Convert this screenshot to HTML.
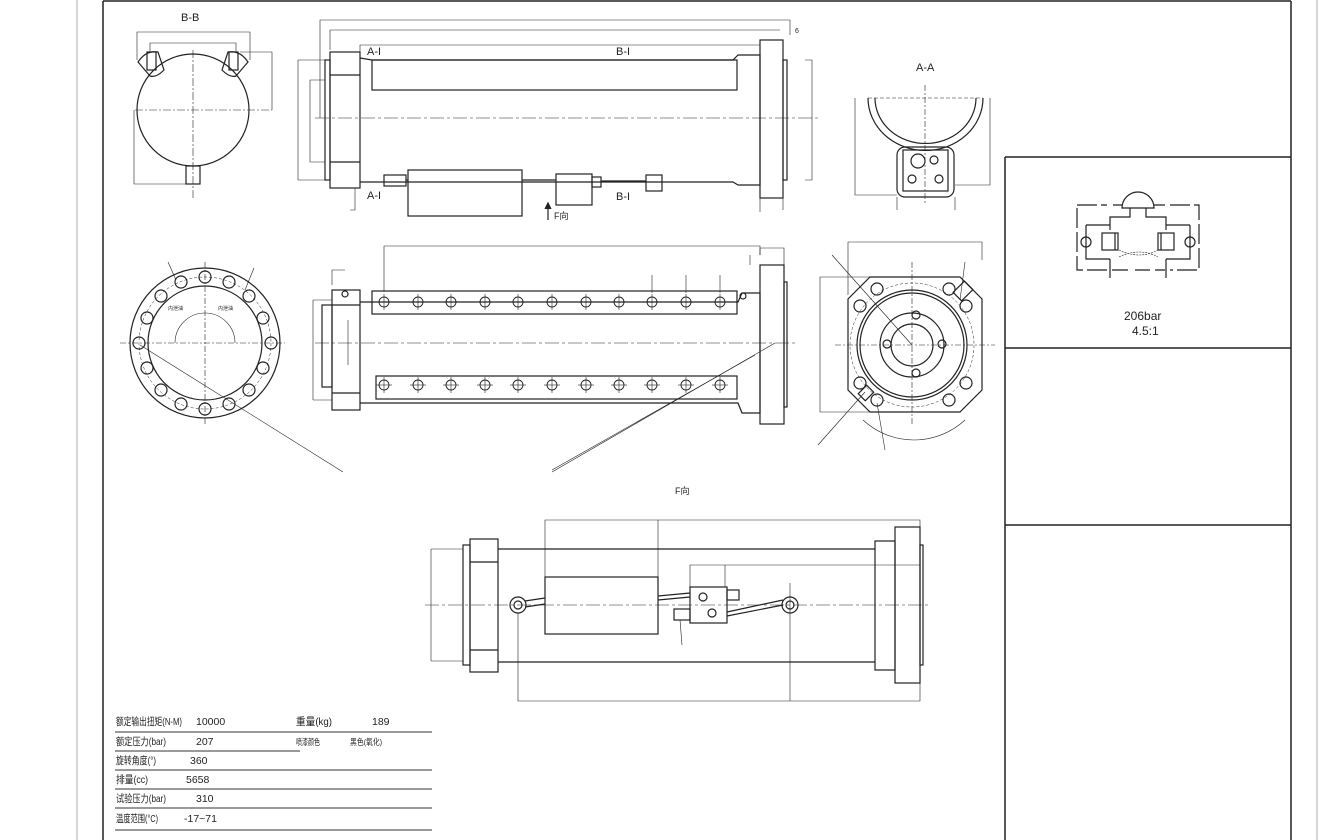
<!DOCTYPE html>
<html><head><meta charset="utf-8"><style>
html,body{margin:0;padding:0;background:#fff;width:1343px;height:840px;overflow:hidden}
svg{display:block}
text{font-family:"Liberation Sans","Noto Sans CJK SC",sans-serif;fill:#222}
</style></head><body>
<svg width="1343" height="840" viewBox="0 0 1343 840" xmlns="http://www.w3.org/2000/svg">
<defs>
<g id="ch"><circle r="5"/><line x1="-8" y1="0" x2="8" y2="0" stroke-width="0.6"/><line x1="0" y1="-8" x2="0" y2="8" stroke-width="0.6"/></g>
</defs>
<g fill="none" stroke="#222" stroke-width="1.2">
<!-- frame -->
<line x1="77" y1="0" x2="77" y2="840" stroke="#bbb"/>
<line x1="1317" y1="0" x2="1317" y2="840" stroke="#bbb"/>
<line x1="103" y1="1" x2="1291" y2="1" stroke-width="1.5"/>
<line x1="103" y1="1" x2="103" y2="840" stroke-width="1.5"/>
<line x1="1291" y1="1" x2="1291" y2="840" stroke-width="1.5"/>
<line x1="1005" y1="157" x2="1005" y2="840" stroke-width="1.5"/>
<line x1="1005" y1="157" x2="1291" y2="157" stroke-width="1.5"/>
<line x1="1005" y1="348" x2="1291" y2="348" stroke-width="1.5"/>
<line x1="1005" y1="525" x2="1291" y2="525" stroke-width="1.5"/>

<!-- B-B view -->
<circle cx="193" cy="110" r="56"/>
<path d="M138 62 q8-12 20-10 l6 18 q-8 8 -14 6 z"/>
<path d="M248 62 q-8-12 -20-10 l-6 18 q8 8 14 6 z"/>
<rect x="147" y="52" width="9" height="18"/><rect x="229" y="52" width="9" height="18"/>
<rect x="186" y="166" width="14" height="18"/>
<g stroke-width="0.6" stroke-dasharray="8 2 2 2"><line x1="193" y1="50" x2="193" y2="200"/><line x1="135" y1="110" x2="272" y2="110"/></g>
<g stroke-width="0.6"><path d="M137 60 V32 H250 V60"/><path d="M150 52 V43 H236 V52"/><path d="M240 52 H272 V110"/><path d="M134 110 V184 H186"/></g>

<!-- top view -->
<g stroke-width="0.6"><path d="M320 118 V20 H790 V35"/><path d="M330 50 V30 H780"/><path d="M360 52 V45 H760"/>
<path d="M298 60 V180"/><path d="M298 60 H330"/><path d="M298 180 H330"/><path d="M310 80 H325 V162 H310 Z"/>
<path d="M805 60 H812 V180 H805"/><path d="M783 198 V210"/><path d="M760 198 V212"/>
<path d="M355 188 V210 H350"/></g>
<rect x="330" y="52" width="30" height="136"/><line x1="330" y1="75" x2="360" y2="75"/><line x1="330" y1="162" x2="360" y2="162"/>
<rect x="325" y="60" width="5" height="120"/>
<path d="M360 58 L372 60 H733 L738 55 H760 V185 H738 L733 182 H360"/>
<rect x="372" y="60" width="365" height="30"/>
<rect x="760" y="40" width="23" height="158"/>
<rect x="783" y="60" width="4" height="120"/>
<line x1="315" y1="118" x2="820" y2="118" stroke-width="0.6" stroke-dasharray="14 3 3 3"/>
<rect x="384" y="175" width="22" height="11"/><rect x="408" y="170" width="114" height="46"/>
<rect x="556" y="174" width="36" height="31"/><rect x="592" y="177" width="9" height="10"/>
<rect x="646" y="175" width="16" height="16"/>
<line x1="406" y1="180" x2="408" y2="180"/><line x1="522" y1="180" x2="556" y2="180"/><line x1="601" y1="181" x2="646" y2="181"/>
<path d="M548 220 V205" /><path d="M545 209 L548 203 L551 209" fill="#222"/>

<!-- A-A view -->
<path d="M868 98 A57 52 0 0 0 983 98"/><path d="M875 98 A50 45 0 0 0 976 98"/>
<path d="M868 98 H983" stroke-width="0.6" stroke-dasharray="4 2"/>
<rect x="897" y="147" width="57" height="50" rx="8"/><rect x="903" y="150" width="45" height="41"/>
<circle cx="918" cy="161" r="7"/><circle cx="934" cy="160" r="4"/>
<circle cx="912" cy="179" r="4"/><circle cx="939" cy="179" r="4"/>
<g stroke-width="0.6"><line x1="925" y1="85" x2="925" y2="205" stroke-dasharray="6 2 2 2"/><path d="M855 98 V195 H897"/><path d="M990 98 V185 H955"/><path d="M897 197 V210"/><path d="M955 197 V210"/></g>

<!-- flange circle -->
<circle cx="205" cy="343" r="75"/><circle cx="205" cy="343" r="57"/>
<circle cx="205" cy="343" r="66" stroke-width="0.5" stroke-dasharray="3 2"/>
<g>
<circle cx="205" cy="277" r="6"/><circle cx="229" cy="282" r="6"/><circle cx="249" cy="296" r="6"/><circle cx="263" cy="318" r="6"/><circle cx="271" cy="343" r="6"/><circle cx="263" cy="368" r="6"/><circle cx="249" cy="390" r="6"/><circle cx="229" cy="404" r="6"/><circle cx="205" cy="409" r="6"/><circle cx="181" cy="404" r="6"/><circle cx="161" cy="390" r="6"/><circle cx="147" cy="368" r="6"/><circle cx="139" cy="343" r="6"/><circle cx="147" cy="318" r="6"/><circle cx="161" cy="296" r="6"/><circle cx="181" cy="282" r="6"/>
</g>
<g stroke-width="0.6"><line x1="205" y1="262" x2="205" y2="425" stroke-dasharray="6 2 2 2"/><line x1="120" y1="343" x2="285" y2="343" stroke-dasharray="6 2 2 2"/>
<path d="M175 343 A30 30 0 0 1 235 343"/><line x1="140" y1="345" x2="343" y2="472"/>
<line x1="168" y1="262" x2="176" y2="280"/><line x1="254" y1="268" x2="245" y2="290"/></g>

<!-- middle side view -->
<g stroke-width="0.6"><path d="M384 292 V246 H760 V255"/><path d="M760 255 V248 H784 V265"/><path d="M750 255 V265"/><path d="M332 285 V270 H345"/>
<path d="M313 300 V400"/><path d="M313 300 H332"/><path d="M313 400 H332"/><path d="M348 320 V365"/>
<line x1="315" y1="343" x2="795" y2="343" stroke-dasharray="14 3 3 3"/>
<line x1="775" y1="343" x2="552" y2="472"/><line x1="755" y1="355" x2="552" y2="470"/>
<line x1="652" y1="275" x2="652" y2="293"/><line x1="686" y1="275" x2="686" y2="293"/><line x1="720" y1="275" x2="720" y2="293"/></g>
<rect x="332" y="290" width="28" height="120"/><line x1="332" y1="305" x2="360" y2="305"/><line x1="332" y1="393" x2="360" y2="393"/>
<rect x="322" y="305" width="10" height="82"/>
<path d="M360 302 H738 L742 293 H760 V413 H742 L738 403 H360"/>
<rect x="372" y="291" width="365" height="23"/><rect x="376" y="376" width="361" height="23"/>
<rect x="760" y="265" width="24" height="159"/><rect x="784" y="282" width="3" height="125"/>
<circle cx="345" cy="294" r="3"/><circle cx="743" cy="296" r="3"/>
<g stroke-width="0.9">
<use href="#ch" x="384" y="302"/><use href="#ch" x="418" y="302"/><use href="#ch" x="451" y="302"/><use href="#ch" x="485" y="302"/><use href="#ch" x="518" y="302"/><use href="#ch" x="552" y="302"/><use href="#ch" x="586" y="302"/><use href="#ch" x="619" y="302"/><use href="#ch" x="652" y="302"/><use href="#ch" x="686" y="302"/><use href="#ch" x="720" y="302"/>
<use href="#ch" x="384" y="385"/><use href="#ch" x="418" y="385"/><use href="#ch" x="451" y="385"/><use href="#ch" x="485" y="385"/><use href="#ch" x="518" y="385"/><use href="#ch" x="552" y="385"/><use href="#ch" x="586" y="385"/><use href="#ch" x="619" y="385"/><use href="#ch" x="652" y="385"/><use href="#ch" x="686" y="385"/><use href="#ch" x="720" y="385"/>
</g>

<!-- octagon view -->
<path d="M870 277 H960 L982 299 V390 L960 412 H870 L848 390 V299 Z"/>
<circle cx="912" cy="345" r="55"/><circle cx="912" cy="345" r="52"/><circle cx="912" cy="345" r="32"/><circle cx="912" cy="345" r="21"/>
<circle cx="912" cy="345" r="62" stroke-width="0.5" stroke-dasharray="3 2"/>
<circle cx="877" cy="289" r="6"/><circle cx="949" cy="289" r="6"/><circle cx="860" cy="306" r="6"/><circle cx="966" cy="306" r="6"/><circle cx="860" cy="383" r="6"/><circle cx="966" cy="383" r="6"/><circle cx="877" cy="400" r="6"/><circle cx="949" cy="400" r="6"/>
<circle cx="916" cy="315" r="4"/><circle cx="916" cy="373" r="4"/><circle cx="887" cy="344" r="4"/><circle cx="942" cy="344" r="4"/>
<rect x="955" y="285" width="16" height="12" transform="rotate(-45 963 291)"/><rect x="860" y="388" width="12" height="10" transform="rotate(-45 866 393)"/>
<g stroke-width="0.6"><line x1="912" y1="262" x2="912" y2="425" stroke-dasharray="6 2 2 2"/><line x1="835" y1="345" x2="995" y2="345" stroke-dasharray="6 2 2 2"/>
<path d="M848 295 V242 H982 V260"/><path d="M870 277 H820 V412 H870"/>
<path d="M863 420 A75 75 0 0 0 965 420"/><line x1="832" y1="255" x2="912" y2="345"/>
<line x1="865" y1="392" x2="818" y2="445"/><line x1="877" y1="403" x2="885" y2="450"/><line x1="965" y1="262" x2="960" y2="300"/></g>

<!-- bottom F view -->
<g stroke-width="0.6"><path d="M431 549 V661"/><path d="M431 549 H463"/><path d="M431 661 H463"/>
<path d="M545 577 V520 H920 V535"/><path d="M658 520 V577"/>
<path d="M690 587 V565 H920"/><path d="M725 565 V587"/>
<path d="M518 613 V701 H920 V683"/><path d="M790 583 V701"/>
<line x1="425" y1="605" x2="930" y2="605" stroke-dasharray="14 3 3 3"/><line x1="680" y1="620" x2="682" y2="645"/></g>
<rect x="470" y="539" width="28" height="133"/><line x1="470" y1="562" x2="498" y2="562"/><line x1="470" y1="650" x2="498" y2="650"/>
<rect x="463" y="545" width="7" height="120"/>
<path d="M498 549 H875 M498 662 H875"/>
<rect x="875" y="541" width="20" height="129"/><rect x="895" y="527" width="25" height="156"/><rect x="920" y="545" width="3" height="120"/>
<rect x="545" y="577" width="113" height="57"/>
<circle cx="518" cy="605" r="8"/><circle cx="518" cy="605" r="4"/>
<circle cx="790" cy="605" r="8"/><circle cx="790" cy="605" r="4"/>
<path d="M525 601 L545 598 M525 607 L545 604"/>
<path d="M658 596 L690 593 M658 600 L690 597"/>
<path d="M727 612 L783 600 M727 616 L783 605"/>
<rect x="690" y="587" width="37" height="36"/><circle cx="703" cy="597" r="4"/><circle cx="712" cy="613" r="4"/>
<rect x="727" y="590" width="12" height="10"/><rect x="674" y="609" width="16" height="11"/>

<!-- table lines -->
<g stroke="#333" stroke-width="1"><line x1="115" y1="732" x2="432" y2="732"/><line x1="115" y1="751" x2="300" y2="751"/><line x1="115" y1="770" x2="432" y2="770"/><line x1="115" y1="789" x2="432" y2="789"/><line x1="115" y1="808" x2="432" y2="808"/><line x1="115" y1="830" x2="432" y2="830"/></g>

<!-- hydraulic symbol -->
<path d="M1122 208 A16 16 0 0 1 1154 208 Z"/>
<path d="M1077 205 H1107 M1113 205 H1122 M1154 205 H1165 M1170 205 H1199 V270 H1170 M1165 270 H1155 M1150 270 H1135 M1128 270 H1112 M1107 270 H1077 V205" stroke-dasharray="20 4"/>
<path d="M1130 208 V217 H1110 V230 M1146 208 V217 H1166 V230"/>
<path d="M1086 225 V259 H1110 M1190 225 V259 H1166 M1086 225 H1110 M1190 225 H1166"/>
<rect x="1102" y="233" width="16" height="17"/><line x1="1115" y1="233" x2="1115" y2="250"/>
<rect x="1158" y="233" width="16" height="17"/><line x1="1161" y1="233" x2="1161" y2="250"/>
<circle cx="1086" cy="242" r="5"/><circle cx="1190" cy="242" r="5"/>
<path d="M1119 250 Q1140 260 1158 250 M1119 257 Q1140 247 1158 257" stroke-width="0.6" stroke-dasharray="2 1"/>
<line x1="1110" y1="259" x2="1110" y2="278"/><line x1="1166" y1="259" x2="1166" y2="278"/>
</g>

<!-- text -->
<text x="181" y="21" font-size="11">B-B</text>
<text x="367" y="55" font-size="11">A-I</text><text x="616" y="55" font-size="11">B-I</text>
<text x="367" y="199" font-size="11">A-I</text><text x="616" y="200" font-size="11">B-I</text>
<text x="554" y="219" font-size="9">F向</text>
<text x="795" y="33" font-size="7">6</text>
<text x="916" y="71" font-size="11">A-A</text>
<text x="675" y="494" font-size="9">F向</text>
<text x="168" y="310" font-size="5">内泄油</text><text x="218" y="310" font-size="5">内泄油</text>
<text x="1124" y="320" font-size="12" fill="#444">206bar</text>
<text x="1132" y="335" font-size="12" fill="#444">4.5:1</text>
<g font-size="10.5">
<text x="116" y="725" textLength="66" lengthAdjust="spacingAndGlyphs">额定输出扭矩(N-M)</text><text x="196" y="725">10000</text><text x="296" y="725" textLength="36" lengthAdjust="spacingAndGlyphs">重量(kg)</text><text x="372" y="725">189</text>
<text x="116" y="745" textLength="50" lengthAdjust="spacingAndGlyphs">额定压力(bar)</text><text x="196" y="745">207</text><text x="296" y="745" font-size="8.5" textLength="24" lengthAdjust="spacingAndGlyphs">喷漆颜色</text><text x="350" y="745" font-size="8.5" textLength="32" lengthAdjust="spacingAndGlyphs">黑色(氧化)</text>
<text x="116" y="764" textLength="40" lengthAdjust="spacingAndGlyphs">旋转角度(°)</text><text x="190" y="764">360</text>
<text x="116" y="783" textLength="32" lengthAdjust="spacingAndGlyphs">排量(cc)</text><text x="186" y="783">5658</text>
<text x="116" y="802" textLength="50" lengthAdjust="spacingAndGlyphs">试验压力(bar)</text><text x="196" y="802">310</text>
<text x="116" y="822" textLength="42" lengthAdjust="spacingAndGlyphs">温度范围(°C)</text><text x="184" y="822">-17~71</text>
</g>
</svg>
</body></html>
